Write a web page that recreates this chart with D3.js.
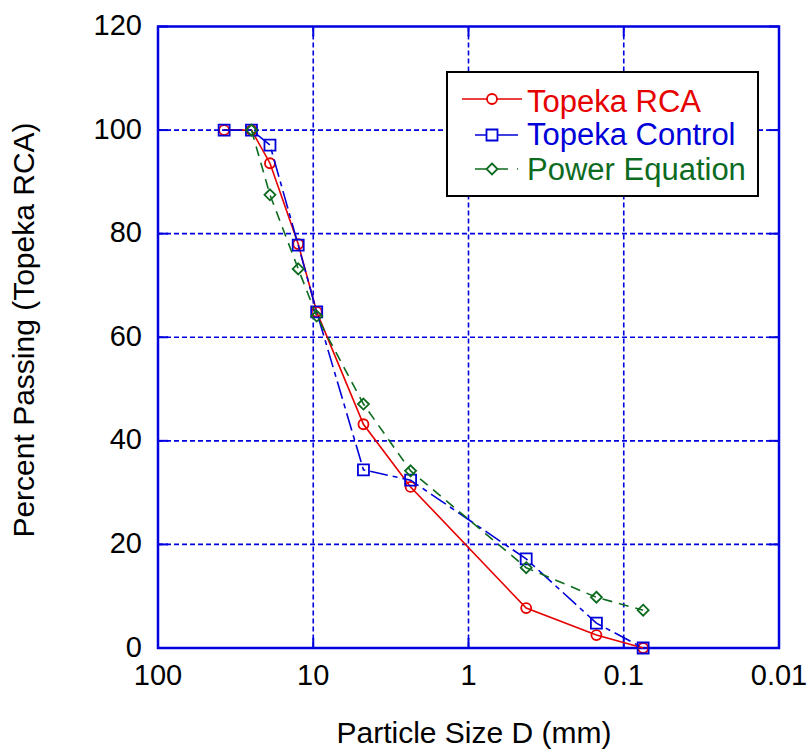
<!DOCTYPE html>
<html>
<head>
<meta charset="utf-8">
<script src="https://cdn.jsdelivr.net/npm/d3@7"></script>
<style>
  html, body { margin: 0; padding: 0; background: #fff; }
  svg { display: block; font-family: "Liberation Sans", Arial, sans-serif; }
</style>
</head>
<body>
<svg id="chart" width="809" height="755"></svg>
<script>
(function () {
  "use strict";

  // sieve sizes (mm) and percent passing
  const rcaSize = [37.5, 25, 19, 12.5, 9.5, 4.75, 2.36, 0.425, 0.15, 0.075];
  const rcaPass = [100, 100, 93.6, 78.0, 64.9, 43.2, 31.1, 7.7, 2.5, 0];

  const controlSize = [37.5, 25, 19, 12.5, 9.5, 4.75, 2.36, 0.425, 0.15, 0.075];
  const controlPass = [100, 100, 97.1, 77.8, 64.9, 34.4, 32.4, 17.2, 4.8, 0];

  const powerSize = [25, 19, 12.5, 9.5, 4.75, 2.36, 0.425, 0.15, 0.075];
  const powerPass = [100, 87.5, 73.2, 64.1, 47.1, 34.2, 15.5, 9.8, 7.3];

  const xTicks = [100, 10, 1, 0.1, 0.01];
  const xTickLabels = ["100", "10", "1", "0.1", "0.01"];
  const yTicks = [0, 20, 40, 60, 80, 100, 120];

  const seriesNames = ["Topeka RCA", "Topeka Control", "Power Equation"];

  const AXIS = "#0000e0";
  const RED = "#e60000";
  const BLUE = "#0000d9";
  const GREEN = "#0d6b1f";

  const left = 158, right = 779, top = 26.5, bottom = 648;
  const svg = d3.select("#chart");

  const x = d3.scaleLog().domain([100, 0.01]).range([left, right]);
  const y = d3.scaleLinear().domain([0, 120]).range([bottom, top]);

  // grid
  const grid = svg.append("g")
    .attr("stroke", AXIS)
    .attr("stroke-width", 1.6)
    .attr("stroke-dasharray", "5,3");
  grid.selectAll("line.vx")
    .data(xTicks.slice(1, -1))
    .join("line")
    .attr("x1", (d) => x(d)).attr("x2", (d) => x(d))
    .attr("y1", top).attr("y2", bottom);
  grid.selectAll("line.hy")
    .data(yTicks.slice(1, -1))
    .join("line")
    .attr("x1", left).attr("x2", right)
    .attr("y1", (d) => y(d)).attr("y2", (d) => y(d));

  // inward major ticks
  const ticks = svg.append("g").attr("stroke", AXIS).attr("stroke-width", 2);
  xTicks.forEach((d) => {
    ticks.append("line").attr("x1", x(d)).attr("x2", x(d)).attr("y1", bottom).attr("y2", bottom - 10);
    ticks.append("line").attr("x1", x(d)).attr("x2", x(d)).attr("y1", top).attr("y2", top + 10);
  });
  yTicks.forEach((d) => {
    ticks.append("line").attr("x1", left).attr("x2", left + 10).attr("y1", y(d)).attr("y2", y(d));
    ticks.append("line").attr("x1", right).attr("x2", right - 10).attr("y1", y(d)).attr("y2", y(d));
  });

  svg.append("rect")
    .attr("x", left).attr("y", top)
    .attr("width", right - left).attr("height", bottom - top)
    .attr("fill", "none")
    .attr("stroke", AXIS)
    .attr("stroke-width", 2.5);

  // tick labels
  svg.append("g")
    .selectAll("text")
    .data(yTicks)
    .join("text")
    .attr("x", left - 16)
    .attr("y", (d) => y(d) + 8.5)
    .attr("text-anchor", "end")
    .attr("font-size", 29)
    .text((d) => d);

  svg.append("g")
    .selectAll("text")
    .data(xTicks)
    .join("text")
    .attr("x", (d) => x(d))
    .attr("y", 685)
    .attr("text-anchor", "middle")
    .attr("font-size", 29)
    .text((d, i) => xTickLabels[i]);

  // axis titles
  svg.append("text")
    .attr("x", 474).attr("y", 743)
    .attr("text-anchor", "middle")
    .attr("font-size", 30)
    .text("Particle Size D (mm)");

  svg.append("text")
    .attr("transform", "translate(34,330) rotate(-90)")
    .attr("text-anchor", "middle")
    .attr("font-size", 30)
    .text("Percent Passing (Topeka RCA)");

  // series
  const line = d3.line().x((d) => x(d[0])).y((d) => y(d[1]));

  function drawSeries(sizes, values, color, dash, marker) {
    const pts = sizes.map((s, i) => [s, values[i]]);
    const g = svg.append("g");
    g.append("path")
      .datum(pts)
      .attr("d", line)
      .attr("fill", "none")
      .attr("stroke", color)
      .attr("stroke-width", 1.6)
      .attr("stroke-dasharray", dash);
    g.selectAll("path.m")
      .data(pts)
      .join("path")
      .attr("transform", (d) => `translate(${x(d[0])},${y(d[1])})`)
      .attr("d", marker)
      .attr("fill", "none")
      .attr("stroke", color)
      .attr("stroke-width", 1.8);
  }

  const circleMark = "M-5,0a5,5 0 1,0 10,0a5,5 0 1,0 -10,0Z";
  const squareMark = "M-5.5,-5.5H5.5V5.5H-5.5Z";
  const diamondMark = "M0,-5.5L5.5,0L0,5.5L-5.5,0Z";

  drawSeries(rcaSize, rcaPass, RED, null, circleMark);
  drawSeries(controlSize, controlPass, BLUE, "18,5,5,5", squareMark);
  drawSeries(powerSize, powerPass, GREEN, "10,7", diamondMark);

  // legend
  const legend = svg.append("g");
  legend.append("rect")
    .attr("x", 447).attr("y", 72)
    .attr("width", 311).attr("height", 124)
    .attr("fill", "#fff")
    .attr("stroke", "#000")
    .attr("stroke-width", 2);

  const legendRows = [
    { color: RED, dash: null, marker: circleMark, x1: 462, x2: 522, ly: 99, ty: 112 },
    { color: BLUE, dash: null, marker: squareMark, x1: 475, x2: 518, ly: 135, ty: 145 },
    { color: GREEN, dash: "12,9", marker: diamondMark, x1: 475, x2: 518, ly: 169, ty: 180 },
  ];
  legendRows.forEach((r, i) => {
    legend.append("line")
      .attr("x1", r.x1).attr("x2", r.x2)
      .attr("y1", r.ly).attr("y2", r.ly)
      .attr("stroke", r.color)
      .attr("stroke-width", 1.6)
      .attr("stroke-dasharray", r.dash);
    legend.append("path")
      .attr("transform", `translate(${492},${r.ly})`)
      .attr("d", r.marker)
      .attr("fill", "#fff")
      .attr("stroke", r.color)
      .attr("stroke-width", 1.8);
    legend.append("text")
      .attr("x", 527).attr("y", r.ty)
      .attr("font-size", 31)
      .attr("fill", r.color)
      .text(seriesNames[i]);
  });
})();
</script>
</body>
</html>
